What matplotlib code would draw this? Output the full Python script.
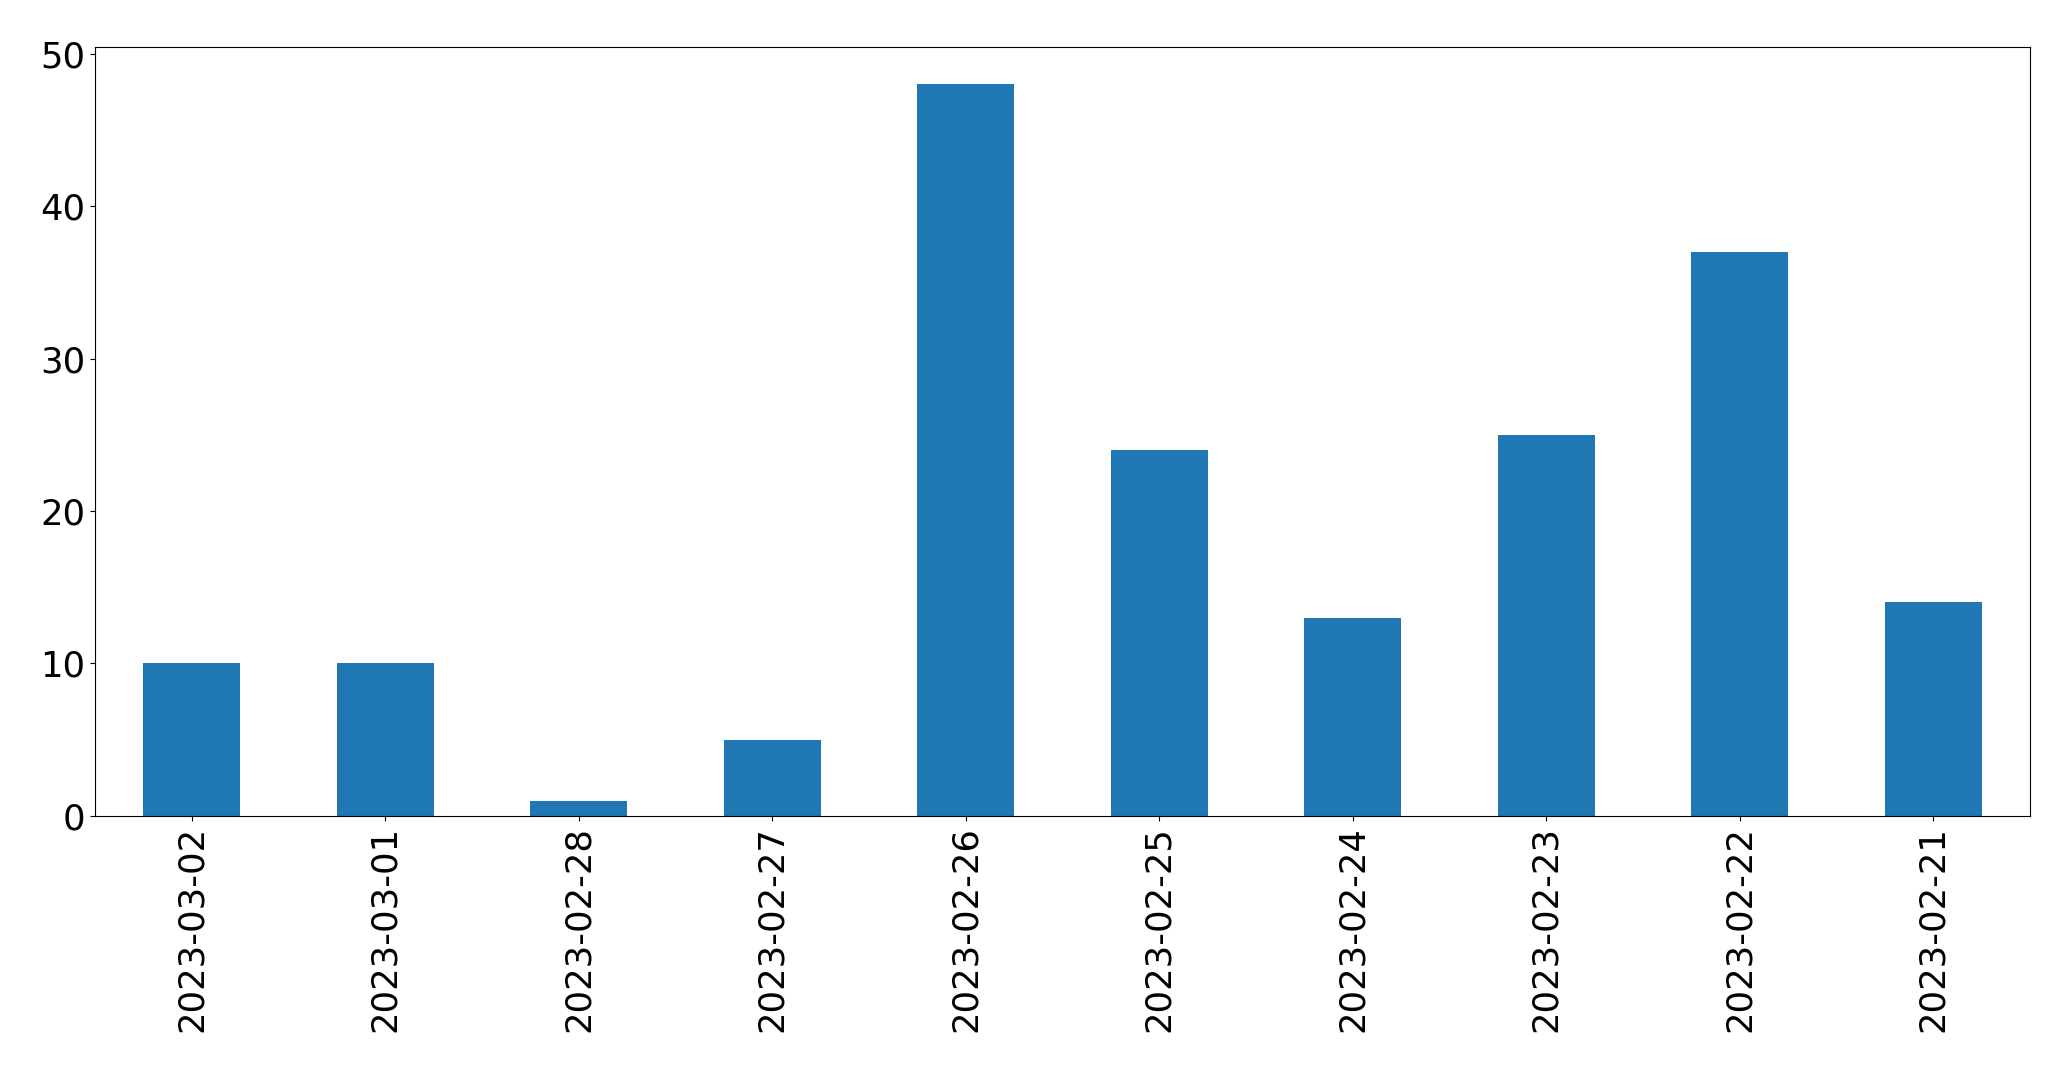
import matplotlib
matplotlib.use("Agg")
import matplotlib.pyplot as plt
import numpy as np

dates = ["2023-03-02", "2023-03-01", "2023-02-28", "2023-02-27", "2023-02-26",
         "2023-02-25", "2023-02-24", "2023-02-23", "2023-02-22", "2023-02-21"]
counts = [10, 10, 1, 5, 48, 24, 13, 25, 37, 14]

fig = plt.figure(figsize=(20.71, 10.69), dpi=100)
ax = fig.add_axes([0.0459, 0.2367, 0.9343, 0.7189])
x = np.arange(len(dates))
ax.bar(x, counts, width=0.5, color="#1f77b4")
ax.set_xlim(-0.5, len(dates) - 0.5)
ax.set_ylim(0, max(counts) * 1.05)
ax.set_xticks(x)
ax.set_xticklabels(dates, rotation=90)
ax.set_yticks([0, 10, 20, 30, 40, 50])
ax.tick_params(labelsize=25.5)
fig.savefig("out.png", dpi=100)
